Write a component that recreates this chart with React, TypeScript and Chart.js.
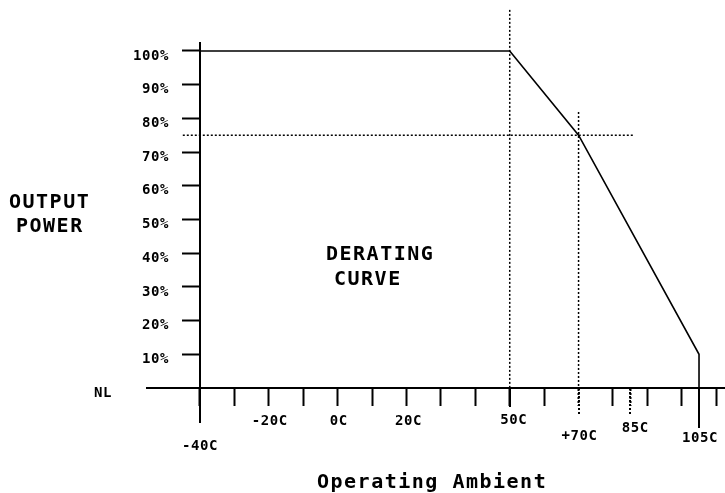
import React, { useEffect, useRef } from "react";
import { Chart, registerables } from "chart.js";

Chart.register(...registerables);

// ---- data ----
const curveTemps = [-40, 50, 70, 105, 105];
const curvePower = [100, 100, 75, 10, 0];

const xTickValues = [-40, -30, -20, -10, 0, 10, 20, 30, 40, 50, 60, 70, 80, 85, 90, 100, 110];
const yTickValues = [10, 20, 30, 40, 50, 60, 70, 80, 90, 100];
const yTickLabels = ["10%", "20%", "30%", "40%", "50%", "60%", "70%", "80%", "90%", "100%"];

const xLabelValues = [-40, -20, 0, 20, 50, 70, 85, 105];
const xLabelTexts = ["-40C", "-20C", "0C", "20C", "50C", "+70C", "85C", "105C"];

const ref50Temps = [50, 50];
const ref50Power = [112.2, 0];
const ref70Temps = [70, 70];
const ref70Power = [81.9, 0];
const ref75Temps = [-45, 86];
const ref75Power = [75, 75];

const dottedTickValues = [70, 85];
const extendedTickValues = [50, 70, 85, 105];

// ---- styling ----
const FONT = '"DejaVu Sans Mono", monospace';
const xLabelDx = [0, 1, 1, 2, 4, 1, 5, 1];
const xLabelDy = [58, 33, 33, 33, 32, 48, 40, 50];
const extendedTickLen = [19, 27, 27, 40];

const toXY = (xs: number[], ys: number[]) => xs.map((x, i) => ({ x, y: ys[i] }));

const annotatePlugin = {
  id: "annotate",
  afterDraw(chart: any) {
    const ctx = chart.ctx as CanvasRenderingContext2D & { letterSpacing?: string };
    const xs = chart.scales.x;
    const ys = chart.scales.y;
    const y0 = ys.getPixelForValue(0);
    const xAxis = xs.getPixelForValue(-40);
    ctx.save();
    // extended ticks
    ctx.strokeStyle = "#000";
    ctx.lineWidth = 2;
    extendedTickValues.forEach((v, i) => {
      const px = Math.round(xs.getPixelForValue(v));
      ctx.setLineDash(dottedTickValues.includes(v) ? [2, 2] : []);
      ctx.beginPath();
      ctx.moveTo(px, y0);
      ctx.lineTo(px, y0 + extendedTickLen[i]);
      ctx.stroke();
    });
    ctx.setLineDash([]);
    ctx.fillStyle = "#000";
    ctx.letterSpacing = "0.6px";
    ctx.font = `bold 14px ${FONT}`;
    // y labels
    ctx.textAlign = "right";
    ctx.textBaseline = "middle";
    yTickValues.forEach((v, i) => {
      ctx.fillText(yTickLabels[i], xAxis - 31, ys.getPixelForValue(v) + 5);
    });
    // x labels
    ctx.textAlign = "center";
    xLabelValues.forEach((v, i) => {
      ctx.fillText(xLabelTexts[i], xs.getPixelForValue(v) + xLabelDx[i], y0 + xLabelDy[i]);
    });
    // NL
    ctx.textAlign = "left";
    ctx.textBaseline = "alphabetic";
    ctx.fillText("NL", 94, y0 + 9);
    // titles
    ctx.font = `bold 20px ${FONT}`;
    ctx.letterSpacing = "1.5px";
    ctx.fillText("OUTPUT", 9, 208);
    ctx.fillText("POWER", 16, 232);
    ctx.fillText("DERATING", 326, 260);
    ctx.fillText("CURVE", 334, 285);
    ctx.fillText("Operating Ambient", 317, 488);
    ctx.restore();
  },
};

export default function App() {
  const canvasRef = useRef<HTMLCanvasElement | null>(null);

  useEffect(() => {
    const canvas = canvasRef.current;
    if (!canvas) return;
    const dotted = {
      borderColor: "#000",
      borderWidth: 1.5,
      borderDash: [2, 2],
      pointRadius: 0,
      showLine: true,
      clip: false as any,
    };
    const chart = new Chart(canvas, {
      type: "scatter",
      data: {
        datasets: [
          {
            label: "Derating curve",
            data: toXY(curveTemps, curvePower),
            borderColor: "#000",
            borderWidth: 1.6,
            pointRadius: 0,
            showLine: true,
            clip: false as any,
          },
          { label: "50C", data: toXY(ref50Temps, ref50Power), ...dotted },
          { label: "70C", data: toXY(ref70Temps, ref70Power), ...dotted },
          { label: "75%", data: toXY(ref75Temps, ref75Power), ...dotted },
        ],
      },
      options: {
        animation: false,
        responsive: false,
        layout: { padding: { left: 147, right: 0, top: 43, bottom: 71 } },
        plugins: { legend: { display: false }, tooltip: { enabled: false } },
        scales: {
          x: {
            type: "linear",
            min: -55.4,
            max: 112.55,
            position: { y: 0 } as any,
            afterBuildTicks: (s: any) => {
              s.ticks = xTickValues.map((v) => ({ value: v }));
            },
            grid: {
              display: true,
              drawOnChartArea: false,
              drawTicks: true,
              tickLength: 17,
              tickWidth: 2,
              tickColor: "#000",
              tickBorderDash: (c: any) => (c.tick && dottedTickValues.includes(c.tick.value) ? [2, 2] : []),
            } as any,
            border: { display: true, color: "#000", width: 2 },
            ticks: { display: false },
          },
          y: {
            type: "linear",
            min: -10.09,
            max: 102.37,
            position: { x: -40 } as any,
            afterBuildTicks: (s: any) => {
              s.ticks = yTickValues.map((v) => ({ value: v }));
            },
            grid: {
              display: true,
              drawOnChartArea: false,
              drawTicks: true,
              tickLength: 17,
              tickWidth: 2,
              tickColor: "#000",
            },
            border: { display: true, color: "#000", width: 2 },
            ticks: { display: false },
          },
        },
      },
      plugins: [annotatePlugin],
    });
    return () => chart.destroy();
  }, []);

  return (
    <div style={{ position: "absolute", left: 0, top: 0, width: 725, height: 493, background: "#fff" }}>
      <canvas ref={canvasRef} width={725} height={493} style={{ width: 725, height: 493, display: "block" }} />
    </div>
  );
}
